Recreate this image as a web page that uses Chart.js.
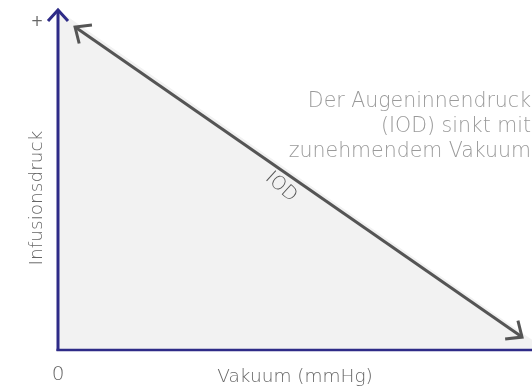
<!DOCTYPE html>
<html>
<head>
<meta charset="utf-8">
<script src="https://cdn.jsdelivr.net/npm/chart.js@4.4.1/dist/chart.umd.min.js"></script>
<style>
  html, body { margin: 0; padding: 0; background: #fff; }
  #wrap { width: 532px; height: 391px; }
</style>
</head>
<body>
<div id="wrap"><canvas id="chart" width="532" height="391"></canvas></div>
<script>
// Data (schematic, 0..100 on both axes)
const areaPoints = [{ x: 0, y: 100 }, { x: 100, y: 3 }];
const iodPoints = [{ x: 3.6, y: 95 }, { x: 97.9, y: 3.8 }];
const xTitle = 'Vakuum (mmHg)';
const yTitle = 'Infusionsdruck';
const iodLabel = 'IOD';
const noteLines = ['Der Augeninnendruck', '(IOD) sinkt mit', 'zunehmendem Vakuum'];

const axisColor = '#2e2b87';
const lineColor = '#555555';
const fontFamily = '"DejaVu Sans", sans-serif';

function arrowHead(ctx, tx, ty, fx, fy, len, spread) {
    const ang = Math.atan2(ty - fy, tx - fx);
    ctx.beginPath();
    ctx.moveTo(tx - len * Math.cos(ang - spread), ty - len * Math.sin(ang - spread));
    ctx.lineTo(tx, ty);
    ctx.lineTo(tx - len * Math.cos(ang + spread), ty - len * Math.sin(ang + spread));
    ctx.stroke();
}

const decorPlugin = {
    id: 'decor',
    afterDatasetsDraw(chart) {
        const { ctx, chartArea, scales } = chart;
        const xs = scales.x, ys = scales.y;
        const x0 = xs.getPixelForValue(0);
        const y0 = ys.getPixelForValue(0);
        ctx.save();

        // arrow heads on the IOD line
        const p1 = { x: xs.getPixelForValue(iodPoints[0].x), y: ys.getPixelForValue(iodPoints[0].y) };
        const p2 = { x: xs.getPixelForValue(iodPoints[1].x), y: ys.getPixelForValue(iodPoints[1].y) };
        ctx.strokeStyle = lineColor;
        ctx.lineWidth = 3;
        ctx.lineCap = 'butt';
        ctx.lineJoin = 'miter';
        arrowHead(ctx, p1.x, p1.y, p2.x, p2.y, 17, 0.72);
        arrowHead(ctx, p2.x, p2.y, p1.x, p1.y, 17, 0.72);

        // axes
        ctx.strokeStyle = axisColor;
        ctx.lineWidth = 3;
        ctx.beginPath();
        ctx.moveTo(x0, y0 + 1);
        ctx.lineTo(x0, chartArea.top);
        ctx.stroke();
        ctx.lineWidth = 2.5;
        ctx.beginPath();
        ctx.moveTo(x0 - 1.5, y0);
        ctx.lineTo(chart.width, y0);
        ctx.stroke();
        ctx.lineWidth = 3;
        ctx.beginPath();
        ctx.moveTo(x0 - 10, chartArea.top + 11);
        ctx.lineTo(x0, chartArea.top);
        ctx.lineTo(x0 + 10, chartArea.top + 11);
        ctx.stroke();

        // texts
        ctx.textBaseline = 'alphabetic';
        ctx.textAlign = 'center';
        ctx.fillStyle = '#666';
        ctx.font = '400 15px ' + fontFamily;
        ctx.fillText('+', x0 - 21, 26);
        ctx.textAlign = 'left';
        ctx.fillText('+', chart.width - 1, 366);

        ctx.textAlign = 'center';
        ctx.font = '200 20px ' + fontFamily;
        ctx.fillText('0', x0, 380);
        ctx.font = '200 18.5px ' + fontFamily;
        ctx.fillText(xTitle, 295, 382);

        ctx.save();
        ctx.translate(42, 198);
        ctx.rotate(-Math.PI / 2);
        ctx.font = '200 18.5px ' + fontFamily;
        ctx.fillText(yTitle, 0, 0);
        ctx.restore();

        // IOD label along the line
        ctx.save();
        ctx.translate(281, 187);
        ctx.rotate(42 * Math.PI / 180);
        ctx.fillStyle = '#555';
        ctx.font = '200 19px ' + fontFamily;
        ctx.textBaseline = 'middle';
        ctx.fillText(iodLabel, 0, 0);
        ctx.restore();

        // note
        ctx.fillStyle = '#9a9a9a';
        ctx.font = '200 20.5px ' + fontFamily;
        ctx.textAlign = 'right';
        noteLines.forEach((t, i) => ctx.fillText(t, 531, 107 + i * 25));

        ctx.restore();
    }
};

new Chart(document.getElementById('chart'), {
    type: 'line',
    data: {
        datasets: [
            {
                data: areaPoints,
                fill: 'origin',
                backgroundColor: '#f2f2f2',
                borderWidth: 0,
                pointRadius: 0,
                order: 2
            },
            {
                data: iodPoints,
                fill: false,
                borderColor: lineColor,
                borderWidth: 3,
                pointRadius: 0,
                order: 1
            }
        ]
    },
    options: {
        responsive: false,
        animation: false,
        layout: { padding: { left: 58, top: 10, right: 0, bottom: 41 } },
        plugins: { legend: { display: false }, tooltip: { enabled: false } },
        scales: {
            x: { type: 'linear', min: 0, max: 100, display: false },
            y: { type: 'linear', min: 0, max: 100, display: false }
        }
    },
    plugins: [decorPlugin]
});
</script>
</body>
</html>
